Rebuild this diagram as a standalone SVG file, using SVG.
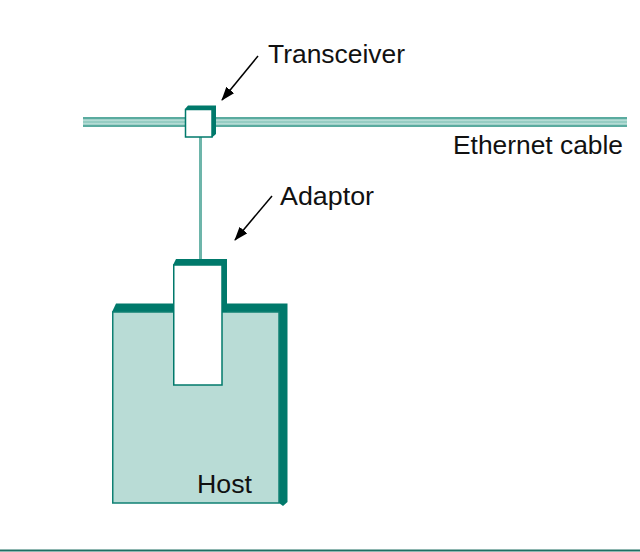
<svg xmlns="http://www.w3.org/2000/svg" width="640" height="552" viewBox="0 0 640 552">
  <style>
    .lbl { font-family: "Liberation Sans", Arial, sans-serif; font-size: 25px; fill: #111; }
    .ext { fill: #00796b; }
    .face-white { fill: #ffffff; stroke: #00796b; stroke-width: 1.5; }
    .face-host { fill: #b9dcd6; stroke: #0f8073; stroke-width: 1.5; }
    .arrow { stroke: #000; stroke-width: 1.5; fill: none; marker-end: url(#ah); }
  </style>
  <defs>
    <linearGradient id="cableGrad" x1="0" y1="0" x2="0" y2="1">
      <stop offset="0" stop-color="#5aab9f"/>
      <stop offset="0.15" stop-color="#5aab9f"/>
      <stop offset="0.3" stop-color="#c4e4de"/>
      <stop offset="0.5" stop-color="#86c5ba"/>
      <stop offset="0.7" stop-color="#c4e4de"/>
      <stop offset="0.85" stop-color="#5aab9f"/>
      <stop offset="1" stop-color="#5aab9f"/>
    </linearGradient>
    <marker id="ah" viewBox="0 0 14 10" refX="13" refY="5" markerWidth="14" markerHeight="10" markerUnits="userSpaceOnUse" orient="auto">
      <path d="M0,0 L14,5 L0,10 z" fill="#000"/>
    </marker>
  </defs>

  <rect width="640" height="552" fill="#ffffff"/>

  <g id="ethernet-cable">
    <rect x="83" y="117" width="544" height="10" fill="url(#cableGrad)"/>
  </g>

  <g id="connectors">
    <line x1="200.5" y1="137" x2="200.5" y2="260" stroke="#6db5aa" stroke-width="3"/>
    <line class="arrow" x1="258" y1="56" x2="222" y2="100"/>
    <line class="arrow" x1="272" y1="196" x2="235" y2="240"/>
  </g>

  <g id="transceiver">
    <polygon class="ext" points="185,109 188,105.5 216,105.5 216,134 212,137.5"/>
    <rect class="face-white" x="185.5" y="109.5" width="26.5" height="27.5"/>
  </g>

  <g id="host">
    <polygon class="ext" points="112,312 116,303.5 287.5,303.5 287.5,502 283,506 279,503"/>
    <rect class="face-host" x="112.75" y="312" width="166.25" height="191"/>
    <text class="lbl" x="197" y="493" textLength="55" lengthAdjust="spacingAndGlyphs">Host</text>
  </g>

  <g id="adaptor">
    <polygon class="ext" points="173,265 176,259 227,259 227,312 222,312"/>
    <rect class="face-white" x="173.75" y="265" width="48.25" height="120"/>
  </g>

  <g id="labels">
    <text class="lbl" x="268" y="63" textLength="137" lengthAdjust="spacingAndGlyphs">Transceiver</text>
    <text class="lbl" x="453" y="154" textLength="170" lengthAdjust="spacingAndGlyphs">Ethernet cable</text>
    <text class="lbl" x="280" y="205" textLength="94" lengthAdjust="spacingAndGlyphs">Adaptor</text>
  </g>

  <line x1="0" y1="550.5" x2="640" y2="550.5" stroke="#1f6e62" stroke-width="2"/>
</svg>
